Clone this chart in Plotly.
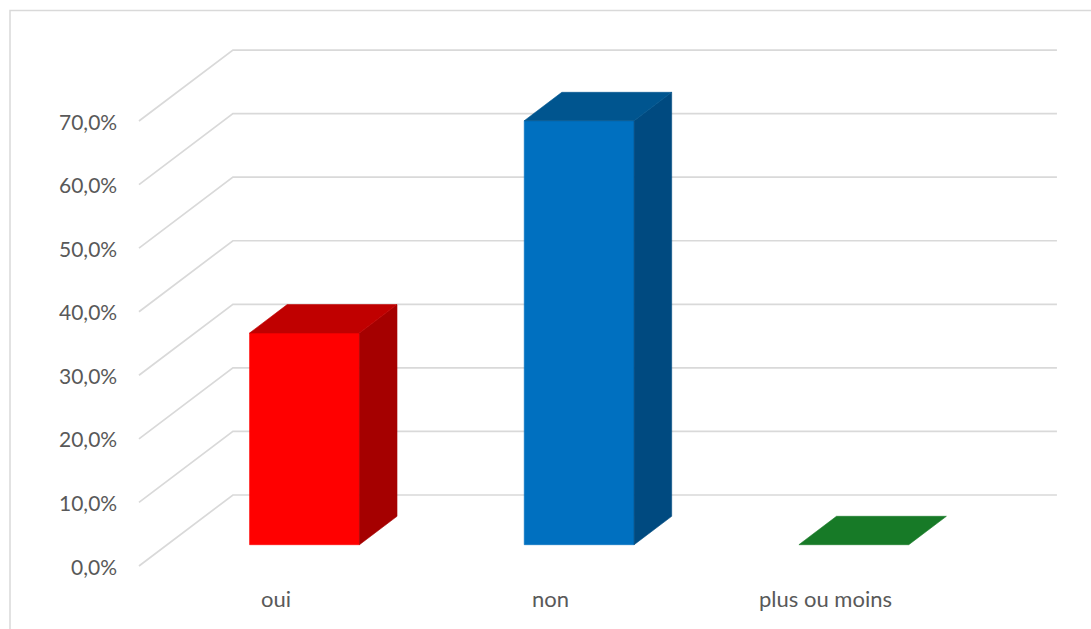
import plotly.graph_objects as go

# Survey answers (share of respondents, in percent)
categories = ["oui", "non", "plus ou moins"]
values = [33.3, 66.7, 0.0]

# Face colours of each column: front, right side, top
front_colors = ["#FF0000", "#0070C0", "#1E9A33"]
side_colors = ["#A50000", "#004A80", "#136022"]
top_colors = ["#C00000", "#00558F", "#177A27"]

# Value axis
tick_values = [0, 10, 20, 30, 40, 50, 60, 70]
tick_labels = ["0,0%", "10,0%", "20,0%", "30,0%", "40,0%", "50,0%", "60,0%", "70,0%"]

# Oblique projection: a unit of depth shifts right (x units) and up (value units)
DEPTH_X = 0.342
DEPTH_Y = 11.17
BAR_WIDTH = 0.40
BAR_DEPTH = (0.30, 0.70)

GRID = "#D9D9D9"
TEXT = "#595959"
FONT = "Lato"


def project(x, v, d):
    """Map (category position, value, depth 0..1) to plot coordinates."""
    return x + d * DEPTH_X, v + d * DEPTH_Y


def polygon(points, color):
    xs = [p[0] for p in points] + [points[0][0]]
    ys = [p[1] for p in points] + [points[0][1]]
    return go.Scatter(
        x=xs, y=ys, mode="lines", fill="toself", fillcolor=color,
        line=dict(color=color, width=0.6), hoverinfo="skip", showlegend=False,
    )


fig = go.Figure()
n = len(categories)

# Back wall and left side wall gridlines
for t in tick_values:
    fx, fy = project(0, t, 0)
    bx, by = project(0, t, 1)
    ex, ey = project(n, t, 1)
    fig.add_trace(go.Scatter(
        x=[fx, bx, ex], y=[fy, by, ey], mode="lines",
        line=dict(color=GRID, width=1.7), hoverinfo="skip", showlegend=False,
    ))

# Columns
d0, d1 = BAR_DEPTH
for i, (cat, val) in enumerate(zip(categories, values)):
    xc = i + 0.5
    xl, xr = xc - BAR_WIDTH / 2, xc + BAR_WIDTH / 2
    front = [project(xl, 0, d0), project(xr, 0, d0), project(xr, val, d0), project(xl, val, d0)]
    side = [project(xr, 0, d0), project(xr, 0, d1), project(xr, val, d1), project(xr, val, d0)]
    top = [project(xl, val, d0), project(xr, val, d0), project(xr, val, d1), project(xl, val, d1)]
    if val > 0:
        fig.add_trace(polygon(front, front_colors[i]))
        fig.add_trace(polygon(side, side_colors[i]))
    fig.add_trace(polygon(top, top_colors[i]))

    fig.add_annotation(
        x=xc, y=0, text=cat, showarrow=False, xanchor="center", yanchor="middle",
        yshift=-32, font=dict(family=FONT, size=22, color=TEXT),
    )

# Value labels on the front-left edge
for t, lab in zip(tick_values, tick_labels):
    fig.add_annotation(
        x=0, y=t, text=lab, showarrow=False, xanchor="right", yanchor="middle",
        xshift=-20, font=dict(family=FONT, size=21, color=TEXT),
    )

# Chart area border
fig.add_shape(
    type="rect", xref="paper", yref="paper",
    x0=10 / 1091, x1=1.02, y0=-0.02, y1=1 - 10.5 / 629,
    line=dict(color=GRID, width=1.5), fillcolor="rgba(0,0,0,0)",
)

fig.update_layout(
    width=1091, height=629,
    margin=dict(l=0, r=0, t=0, b=0),
    paper_bgcolor="white", plot_bgcolor="white",
    xaxis=dict(range=[-0.506, 3.466], visible=False, fixedrange=True),
    yaxis=dict(range=[-9.91, 89.04], visible=False, fixedrange=True),
    showlegend=False,
)

fig.write_html("out.html")
